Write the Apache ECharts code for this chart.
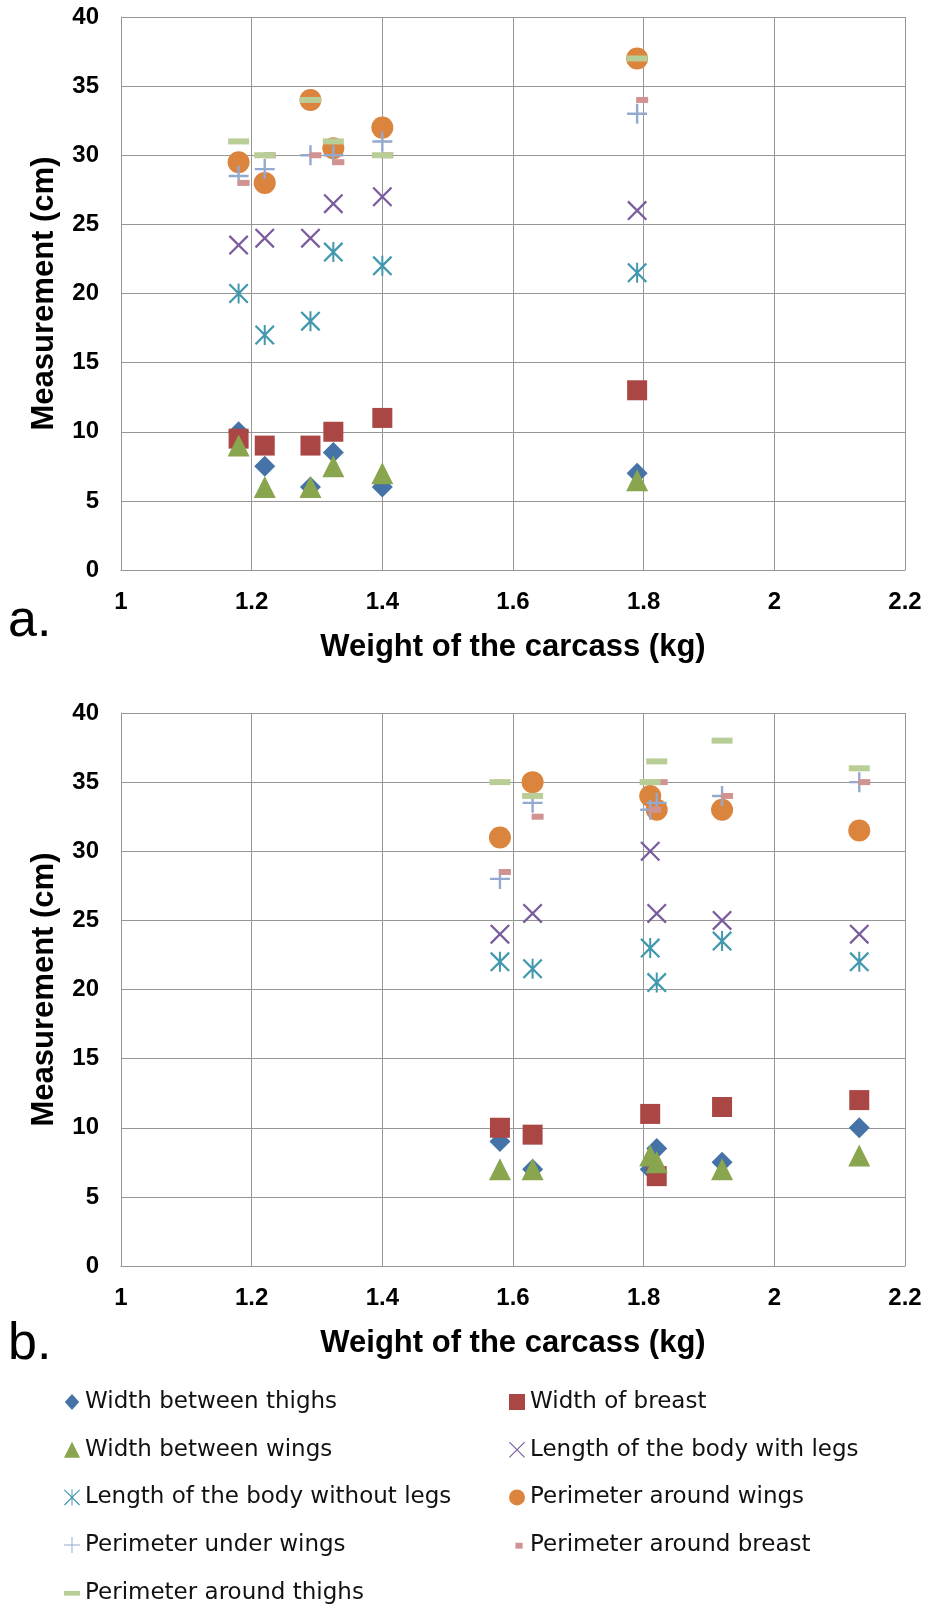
<!DOCTYPE html>
<html><head><meta charset="utf-8">
<script src="https://cdn.jsdelivr.net/npm/echarts@6/dist/echarts.min.js"></script>
<style>html,body{margin:0;padding:0;background:#fff}#c{width:927px;height:1607px}</style>
</head><body><div id="c"></div>
<script>
// ---- data ----
const seriesNames = ['Width between thighs','Width of breast','Width between wings','Length of the body with legs','Length of the body without legs','Perimeter around wings','Perimeter under wings','Perimeter around breast','Perimeter around thighs'];
// panel a
const weightsA      = [1.18, 1.22, 1.29, 1.325, 1.40, 1.79];
const thighsA       = [10, 7.5, 6, 8.5, 6, 7];
const breastA       = [9.5, 9, 9, 10, 11, 13];
const wingsA        = [9, 6, 6, 7.5, 7, 6.5];
const withLegsA     = [23.5, 24, 24, 26.5, 27, 26];
const withoutLegsA  = [20, 17, 18, 23, 22, 21.5];
const perimWingsA   = [29.5, 28, 34, 30.5, 32, 37];
const underWingsA   = [28.5, 29, 30, 30, 31, 33];
const aroundBreastA = [28, 30, 30, 29.5, 30, 34];
const aroundThighsA = [31, 30, 34, 31, 30, 37];
// panel b
const weightsB      = [1.58, 1.63, 1.81, 1.82, 1.92, 2.13];
const thighsB       = [9, 7, 7, 8.5, 7.5, 10];
const breastB       = [10, 9.5, 11, 6.5, 11.5, 12];
const wingsB        = [7, 7, 8, 7.5, 7, 8];
const withLegsB     = [24, 25.5, 30, 25.5, 25, 24];
const withoutLegsB  = [22, 21.5, 23, 20.5, 23.5, 22];
const perimWingsB   = [31, 35, 34, 33, 33, 31.5];
const underWingsB   = [28, 33.5, 33, 33.5, 34, 35];
const aroundBreastB = [28.5, 32.5, 33, 35, 34, 35];
const aroundThighsB = [35, 34, 35, 36.5, 38, 36];
// axes
const xMin = 1, xMax = 2.2, xStep = 0.2;
const yMin = 0, yMax = 40, yStep = 5;
const xTitle = 'Weight of the carcass (kg)';
const yTitle = 'Measurement (cm)';
const panelLabels = ['a.', 'b.'];

// ---- styles ----
const P_X = 'path://M0,8 L8,0 L100,92 L92,100 Z M92,0 L100,8 L8,100 L0,92 Z';
const P_STAR = 'path://M0,8 L8,0 L100,92 L92,100 Z M92,0 L100,8 L8,100 L0,92 Z M45,0 L55,0 L55,100 L45,100 Z';
const P_PLUS = 'path://M44,0 L56,0 L56,100 L44,100 Z M0,44 L100,44 L100,56 L0,56 Z';
const styles = [
  {symbol:'diamond', size:21, color:'#4572A7', icon:'path://M50,0 L95,50 L50,100 L5,50 Z'},
  {symbol:'rect', size:20, color:'#AA4643', icon:'rect'},
  {symbol:'triangle', size:22, color:'#89A54E', icon:'triangle'},
  {symbol:P_X, size:20, color:'#7A5C9E', icon:'path://M0,5 L5,0 L100,95 L95,100 Z M95,0 L100,5 L5,100 L0,95 Z'},
  {symbol:P_STAR, size:20, color:'#4198AF', icon:'path://M0,5 L5,0 L100,95 L95,100 Z M95,0 L100,5 L5,100 L0,95 Z M47,0 L53,0 L53,100 L47,100 Z'},
  {symbol:'circle', size:22, color:'#DB843D', icon:'circle'},
  {symbol:P_PLUS, size:20, color:'#93A9CF', icon:'path://M47,0 L53,0 L53,100 L47,100 Z M0,47 L100,47 L100,53 L0,53 Z'},
  {symbol:'rect', size:[12,6], offset:[5,0], color:'#D19392', icon:'path://M0,0 M100,100 M40,35 L85,35 L85,72 L40,72 Z'},
  {symbol:'rect', size:[21,6], color:'#B9CD96', icon:'path://M0,0 M100,100 M0,38 L100,38 L100,68 L0,68 Z'}
];

const panelA = [thighsA, breastA, wingsA, withLegsA, withoutLegsA, perimWingsA, underWingsA, aroundBreastA, aroundThighsA];
const panelB = [thighsB, breastB, wingsB, withLegsB, withoutLegsB, perimWingsB, underWingsB, aroundBreastB, aroundThighsB];

function buildSeries(idx, weights, arrays) {
  return arrays.map((arr, k) => ({
    type: 'scatter',
    name: seriesNames[k],
    xAxisIndex: idx, yAxisIndex: idx,
    symbol: styles[k].symbol,
    symbolSize: styles[k].size,
    symbolOffset: styles[k].offset || [0, 0],
    itemStyle: {color: styles[k].color, opacity: 1},
    emphasis: {disabled: true},
    z: 2 + k * 0.01,
    data: weights.map((w, i) => [w, arr[i]])
  }));
}

const gridColor = '#969696';
const tickFont = {fontFamily: "'Liberation Sans', Arial, sans-serif", fontWeight: 'bold', fontSize: 24, color: '#000'};
const titleFont = {fontFamily: "'Liberation Sans', Arial, sans-serif", fontWeight: 'bold', fontSize: 31, color: '#000'};

function xAx(idx) {
  return {
    type: 'value', gridIndex: idx, min: xMin, max: xMax, interval: xStep,
    axisLine: {show: true, onZero: false, lineStyle: {color: gridColor, width: 1}},
    axisTick: {show: false},
    splitLine: {show: true, lineStyle: {color: gridColor, width: 1}},
    axisLabel: Object.assign({margin: 20}, tickFont),
    name: xTitle, nameLocation: 'middle', nameGap: 62, nameTextStyle: titleFont
  };
}
function yAx(idx) {
  return {
    type: 'value', gridIndex: idx, min: yMin, max: yMax, interval: yStep,
    axisLine: {show: true, lineStyle: {color: gridColor, width: 1}},
    axisTick: {show: false},
    splitLine: {show: true, lineStyle: {color: gridColor, width: 1}},
    axisLabel: Object.assign({margin: 22}, tickFont),
    name: yTitle, nameLocation: 'middle', nameGap: 61, nameTextStyle: titleFont
  };
}

const legendText = {fontFamily: "'DejaVu Sans', sans-serif", fontSize: 23, color: '#111', lineHeight: 24};
function legendData(ids) { return ids.map(k => ({name: seriesNames[k], icon: styles[k].icon})); }
const legendBase = {top: 1390, orient: 'vertical', padding: 0, itemWidth: 16, itemHeight: 16, itemGap: 23.7, selectedMode: false, textStyle: legendText};

const chart = echarts.init(document.getElementById('c'), null, {renderer: 'canvas'});
chart.setOption({
  animation: false,
  backgroundColor: '#fff',
  grid: [
    {left: 121, right: 22, top: 17, height: 553},
    {left: 121, right: 22, top: 713, height: 553}
  ],
  xAxis: [xAx(0), xAx(1)],
  yAxis: [yAx(0), yAx(1)],
  legend: [
    Object.assign({left: 64, data: legendData([0, 2, 4, 6, 8])}, legendBase),
    Object.assign({left: 509, data: legendData([1, 3, 5, 7])}, legendBase)
  ],
  graphic: [
    {type: 'text', left: 8, top: 596, style: {text: panelLabels[0], font: "52px 'Liberation Sans', Arial", fill: '#000'}},
    {type: 'text', left: 8, top: 1319, style: {text: panelLabels[1], font: "52px 'Liberation Sans', Arial", fill: '#000'}}
  ],
  series: buildSeries(0, weightsA, panelA).concat(buildSeries(1, weightsB, panelB))
});
</script>
</body></html>
